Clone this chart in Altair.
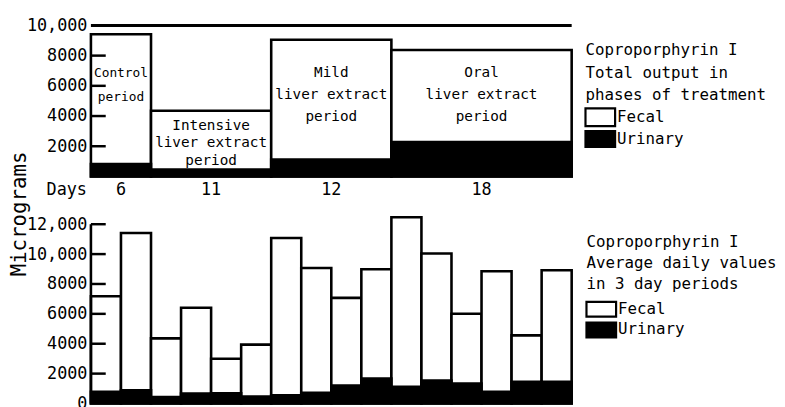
import altair as alt
import pandas as pd

# ---------------- data ----------------
phase_names = ["Control", "Intensive", "Mild", "Oral"]
phase_days = [6, 11, 12, 18]
phase_units = [2, 4, 4, 6]          # number of 3-day periods in each phase
phase_total = [9420, 4350, 9050, 8370]
phase_urinary = [830, 460, 1115, 2275]

period_total = [7180, 11410, 4360, 6410, 2990, 3940, 11080, 9075,
                7070, 8990, 12470, 10045, 6010, 8855, 4560, 8920]
period_urinary = [790, 890, 440, 660, 680, 470, 550, 720,
                  1210, 1670, 1120, 1540, 1340, 790, 1450, 1450]

top_ticks = [2000, 4000, 6000, 8000, 10000]
bottom_ticks = [0, 2000, 4000, 6000, 8000, 10000, 12000]

phase_labels = [["Control", "period"],
                ["Intensive", "liver extract", "period"],
                ["Mild", "liver extract", "period"],
                ["Oral", "liver extract", "period"]]
legend_top = ["Coproporphyrin I", "Total output in", "phases of treatment"]
legend_bottom = ["Coproporphyrin I", "Average daily values", "in 3 day periods"]
legend_keys = ["Fecal", "Urinary"]
y_title = "Micrograms"
days_word = "Days"

# ---------------- tables ----------------
starts = []
s = 0
for u in phase_units:
    starts.append(s)
    s += u
n_units = s
top_df = pd.DataFrame({
    "phase": phase_names,
    "start": starts,
    "end": [a + u for a, u in zip(starts, phase_units)],
    "center": [a + u / 2 for a, u in zip(starts, phase_units)],
    "days": [str(d) for d in phase_days],
    "total": phase_total,
    "urinary": phase_urinary,
    "zero": [0] * 4,
})
bot_df = pd.DataFrame({
    "start": list(range(len(period_total))),
    "end": [i + 1 for i in range(len(period_total))],
    "total": period_total,
    "urinary": period_urinary,
    "zero": [0] * len(period_total),
})
one = pd.DataFrame({"a": [0]})

FONT = "DejaVu Sans Mono"
W = 487
H1 = 153
H2 = 191
SW = 2.6
LBL = "datum.value >= 10000 ? format(datum.value, ',') : format(datum.value, 'd')"

xs = alt.Scale(domain=[0, n_units], nice=False, zero=False)
ys1 = alt.Scale(domain=[0, 10000], nice=False, zero=True)
ys2 = alt.Scale(domain=[0, 12620], nice=False, zero=True)


def make_axis(vals):
    return alt.Axis(values=vals, ticks=False, domain=False, grid=False,
                    labelPadding=4, labelFont=FONT, labelFontSize=17,
                    labelColor="black", title=None, labelExpr=LBL)


ax1 = make_axis(top_ticks)
ax2 = make_axis(bottom_ticks)


def Y(field, sc, ax):
    return alt.Y(field, type="quantitative", scale=sc, axis=ax)


def X(field):
    return alt.X(field, type="quantitative", scale=xs, axis=None)


def legend_layers(lines, first_y, line_h, sw_x, sw_y1, sw_y2, key_x, key_y):
    layers = []
    layers.append(alt.Chart(one).mark_text(
        font=FONT, fontSize=16, color="black", align="left", baseline="middle",
        lineHeight=line_h).encode(x=alt.value(sw_x), y=alt.value(first_y),
                                  text=alt.value(lines)))
    layers.append(alt.Chart(one).mark_rect(fill="white", stroke="black", strokeWidth=2.2).encode(
        x=alt.value(sw_x), x2=alt.value(sw_x + 30), y=alt.value(sw_y1[0]), y2=alt.value(sw_y1[1])))
    layers.append(alt.Chart(one).mark_rect(fill="black", stroke="black", strokeWidth=2.2).encode(
        x=alt.value(sw_x), x2=alt.value(sw_x + 30), y=alt.value(sw_y2[0]), y2=alt.value(sw_y2[1])))
    for k, yy in zip(legend_keys, key_y):
        layers.append(alt.Chart(one).mark_text(
            font=FONT, fontSize=16, color="black", align="left", baseline="middle").encode(
            x=alt.value(key_x), y=alt.value(yy), text=alt.value(k)))
    return layers


# ---------------- top panel ----------------
t_tot = alt.Chart(top_df).mark_rect(fill="white", stroke="black", strokeWidth=SW).encode(
    x=X("start"), x2="end", y=Y("total", ys1, ax1), y2="zero")
t_uri = alt.Chart(top_df).mark_rect(fill="black", stroke="black", strokeWidth=SW).encode(
    x=X("start"), x2="end", y=Y("urinary", ys1, ax1), y2="zero")
t_line = alt.Chart(pd.DataFrame({"v": [top_ticks[-1]]})).mark_rule(
    color="black", strokeWidth=3).encode(y=Y("v", ys1, ax1), x=alt.value(0), x2=alt.value(W))
t_ticks = alt.Chart(pd.DataFrame({"v": top_ticks[:-1]})).mark_rule(
    color="black", strokeWidth=2.5).encode(y=Y("v", ys1, ax1), x=alt.value(0), x2=alt.value(15))
t_days = alt.Chart(top_df).mark_text(font=FONT, fontSize=17, color="black", baseline="middle").encode(
    x=X("center"), y=alt.value(167), text="days:N")
t_daysw = alt.Chart(one).mark_text(font=FONT, fontSize=17, color="black", align="right",
                                   baseline="middle").encode(
    x=alt.value(-4), y=alt.value(167), text=alt.value(days_word))

# (first line y in px, line height, font size)
lab_pos = [(48, 25, 13), (102, 17.5, 14.5), (48, 22.5, 14.5), (48, 22.5, 14.5)]
t_labels = []
for i, (lines, (fy, lh, fs)) in enumerate(zip(phase_labels, lab_pos)):
    t_labels.append(alt.Chart(top_df.iloc[[i]]).mark_text(
        font=FONT, fontSize=fs, color="black", baseline="middle",
        lineHeight=lh).encode(x=X("center"), y=alt.value(fy), text=alt.value(lines)))

t_title = alt.Chart(one).mark_text(font=FONT, fontSize=21, color="black", angle=270,
                                   baseline="middle").encode(
    x=alt.value(-72), y=alt.value(191), text=alt.value(y_title))

top = alt.layer(
    t_tot, t_uri, t_line, t_ticks, t_days, t_daysw, *t_labels, t_title,
    *legend_layers(legend_top, 25, 23, 501, (84, 102), (107, 123), 533, (93, 115)),
).properties(width=W, height=H1)

# ---------------- bottom panel ----------------
b_tot = alt.Chart(bot_df).mark_rect(fill="white", stroke="black", strokeWidth=SW).encode(
    x=X("start"), x2="end", y=Y("total", ys2, ax2), y2="zero")
b_uri = alt.Chart(bot_df).mark_rect(fill="black", stroke="black", strokeWidth=SW).encode(
    x=X("start"), x2="end", y=Y("urinary", ys2, ax2), y2="zero")
b_axis = alt.Chart(pd.DataFrame({"lo": [bottom_ticks[0]], "hi": [bottom_ticks[-1]]})).mark_rule(
    color="black", strokeWidth=2.6).encode(y=Y("lo", ys2, ax2), y2="hi", x=alt.value(0))
b_ticks = alt.Chart(pd.DataFrame({"v": bottom_ticks[1:]})).mark_rule(
    color="black", strokeWidth=2.5).encode(y=Y("v", ys2, ax2), x=alt.value(0), x2=alt.value(15))

bottom = alt.layer(
    b_tot, b_uri, b_axis, b_ticks,
    *legend_layers(legend_bottom, 27, 21.5, 502, (88, 103), (109, 124), 534, (95, 116)),
).properties(width=W, height=H2)

chart = alt.vconcat(top, bottom, spacing=39, bounds="flush").properties(
    padding={"left": 1, "top": 6, "right": 0, "bottom": 0},
    background="white",
).configure_view(strokeWidth=0)

chart.save("out.html", embed_options={"renderer": "svg", "actions": False})
